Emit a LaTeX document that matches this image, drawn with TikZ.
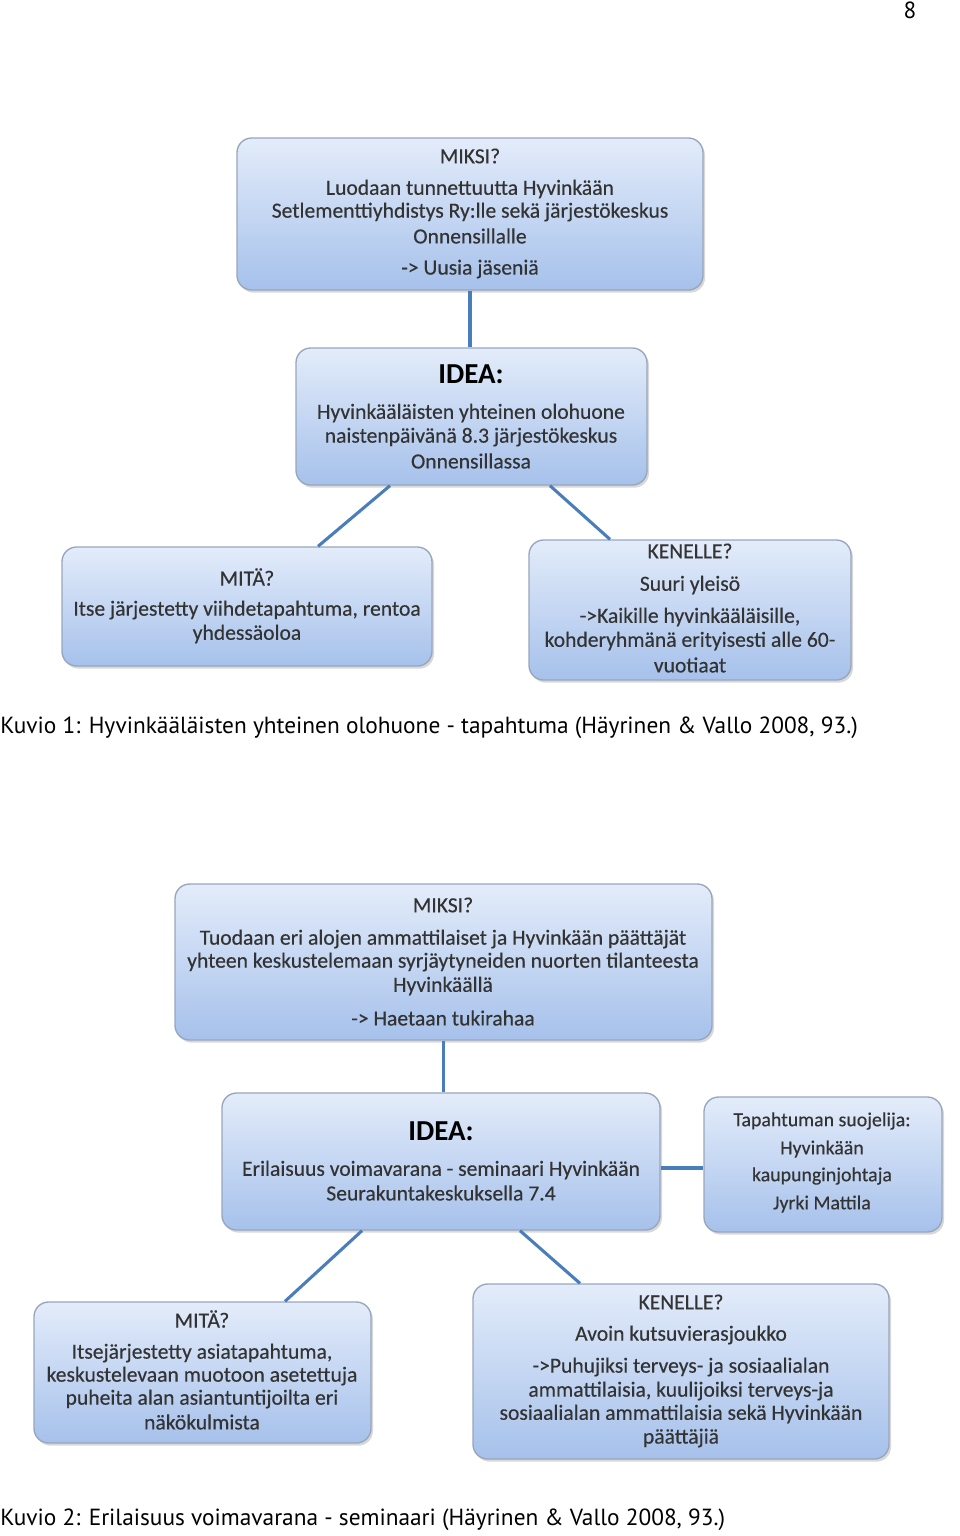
\documentclass[tikz,border=0pt]{standalone}
\usepackage{fontspec}
\setmainfont{Carlito}[FakeBold=0.35]
\newfontfamily\boldfam{Carlito}[FakeBold=0]
\newfontfamily\capfont{PT Sans}
\usetikzlibrary{shadows}
\definecolor{boxtop}{HTML}{E3ECFA}
\definecolor{boxbot}{HTML}{A6C1EB}
\definecolor{boxline}{HTML}{98A6BC}
\definecolor{conncol}{HTML}{4A7EBB}
\definecolor{txt}{HTML}{333333}
\begin{document}
\begin{tikzpicture}[x=0.75pt,y=-0.75pt,
  box/.style={draw=boxline, line width=1pt, rounded corners=11pt, top color=boxtop, bottom color=boxbot,
    inner sep=0pt, drop shadow={opacity=0.3,shadow xshift=1.5pt,shadow yshift=-2pt}},
  t/.style={text=txt, font=\fontsize{16.2}{19}\selectfont, inner sep=0pt, anchor=center},
  ts/.style={text=txt, font=\fontsize{14.9}{17}\selectfont, inner sep=0pt, anchor=center},
  tb/.style={text=black, font=\boldfam\fontsize{21.7}{24}\selectfont\bfseries, inner sep=0pt, anchor=center},
  captxt/.style={text=black, font=\capfont\fontsize{17.5}{20}\selectfont, inner sep=0pt, anchor=west},
  connline/.style={draw=conncol, line width=2.3pt}]
\useasboundingbox (0,0) rectangle (960,1536);
\fill[white] (0,0) rectangle (960,1536);

\node[captxt, anchor=center] (pnum) at (910,10) {8};

% ---------- Figure 1 ----------
\node[box, minimum width=349.5pt, minimum height=114pt] (m1) at (470,214) {};
\node[box, minimum width=263.25pt, minimum height=102.75pt] (i1) at (471.5,416.5) {};
\node[box, minimum width=277.5pt, minimum height=89.25pt] (a1) at (247,606.5) {};
\node[box, minimum width=241.5pt, minimum height=105pt] (k1) at (690,610) {};

\draw[connline] (m1.south) -- (m1.south |- i1.north);
\draw[connline] (390,0 |- i1.south) -- (318,0 |- a1.north);
\draw[connline] (550,0 |- i1.south) -- (610,0 |- k1.north);

\node[t] (m1a) at (470,156) {MIKSI?};
\node[t] (m1b) at (470,189) {Luodaan tunnettuutta Hyvinkään};
\node[t] (m1c) at (470,212) {Setlementtiyhdistys Ry:lle sekä järjestökeskus};
\node[t] (m1d) at (470,236) {Onnensillalle};
\node[t] (m1e) at (470,269) {-> Uusia jäseniä};

\node[tb] (i1a) at (471,374) {IDEA:};
\node[t] (i1b) at (471,413) {Hyvinkääläisten yhteinen olohuone};
\node[t] (i1c) at (471,437) {naistenpäivänä 8.3 järjestökeskus};
\node[t] (i1d) at (471,461) {Onnensillassa};

\node[t] (a1a) at (247,577) {MITÄ?};
\node[t] (a1b) at (247,610) {Itse järjestetty viihdetapahtuma, rentoa};
\node[t] (a1c) at (247,634) {yhdessäoloa};

\node[t] (k1a) at (690,551) {KENELLE?};
\node[t] (k1b) at (690,585) {Suuri yleisö};
\node[t] (k1c) at (690,617) {->Kaikille hyvinkääläisille,};
\node[t] (k1d) at (690,641) {kohderyhmänä erityisesti alle 60-};
\node[t] (k1e) at (690,665) {vuotiaat};

\node[captxt] (cap1) at (0,728) {Kuvio 1: Hyvinkääläisten yhteinen olohuone - tapahtuma (Häyrinen \& Vallo 2008, 93.)};

% ---------- Figure 2 ----------
\node[box, minimum width=402.75pt, minimum height=117pt] (m2) at (443.5,962) {};
\node[box, minimum width=328.5pt, minimum height=102.75pt] (i2) at (441,1161.5) {};
\node[box, minimum width=178.5pt, minimum height=101.25pt] (s2) at (823,1164.5) {};
\node[box, minimum width=252.75pt, minimum height=105.75pt] (a2) at (202.5,1372.5) {};
\node[box, minimum width=312pt, minimum height=131.25pt] (k2) at (681,1371.5) {};

\draw[connline] (m2.south) -- (m2.south |- i2.north);
\draw[connline] (i2.east |- 0,1168) -- (s2.west |- 0,1168);
\draw[connline] (362,0 |- i2.south) -- (285,0 |- a2.north);
\draw[connline] (520,0 |- i2.south) -- (580,0 |- k2.north);

\node[t] (m2a) at (443,905) {MIKSI?};
\node[t] (m2b) at (443,939) {Tuodaan eri alojen ammattilaiset ja Hyvinkään päättäjät};
\node[t] (m2c) at (443,962) {yhteen keskustelemaan syrjäytyneiden nuorten tilanteesta};
\node[t] (m2d) at (443,986) {Hyvinkäällä};
\node[t] (m2e) at (443,1018) {-> Haetaan tukirahaa};

\node[tb] (i2a) at (441,1131) {IDEA:};
\node[t] (i2b) at (441,1170) {Erilaisuus voimavarana - seminaari Hyvinkään};
\node[t] (i2c) at (441,1193) {Seurakuntakeskuksella 7.4};

\node[ts] (s2a) at (822,1121) {Tapahtuman suojelija:};
\node[ts] (s2b) at (822,1149) {Hyvinkään};
\node[ts] (s2c) at (822,1176) {kaupunginjohtaja};
\node[ts] (s2d) at (822,1204) {Jyrki Mattila};

\node[t] (a2a) at (202,1319) {MITÄ?};
\node[t] (a2b) at (202,1353) {Itsejärjestetty asiatapahtuma,};
\node[t] (a2c) at (202,1376) {keskustelevaan muotoon asetettuja};
\node[t] (a2d) at (202,1399) {puheita alan asiantuntijoilta eri};
\node[t] (a2e) at (202,1422) {näkökulmista};

\node[t] (k2a) at (681,1302) {KENELLE?};
\node[t] (k2b) at (681,1335) {Avoin kutsuvierasjoukko};
\node[t] (k2c) at (681,1367) {->Puhujiksi terveys- ja sosiaalialan};
\node[t] (k2d) at (681,1391) {ammattilaisia, kuulijoiksi terveys-ja};
\node[t] (k2e) at (681,1414) {sosiaalialan ammattilaisia sekä Hyvinkään};
\node[t] (k2f) at (681,1438) {päättäjiä};

\node[captxt] (cap2) at (0,1520) {Kuvio 2: Erilaisuus voimavarana - seminaari (Häyrinen \& Vallo 2008, 93.)};
\end{tikzpicture}
\end{document}
